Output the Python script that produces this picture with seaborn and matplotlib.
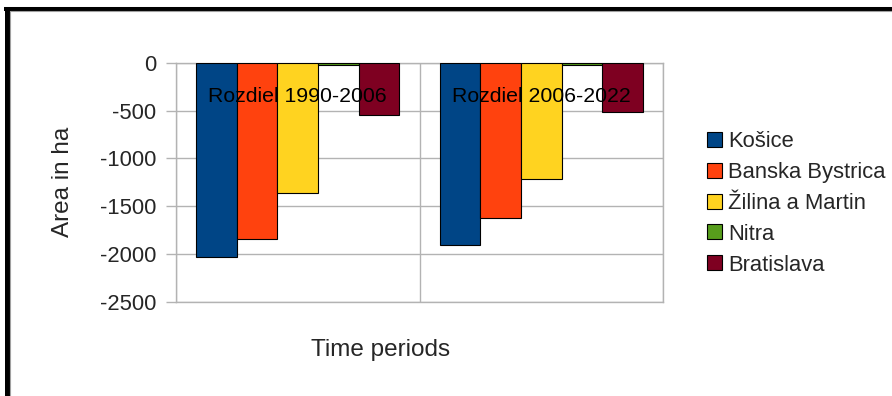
import matplotlib
matplotlib.use("Agg")
import matplotlib.pyplot as plt
import seaborn as sns
import pandas as pd
from matplotlib.lines import Line2D

periods = ["Rozdiel 1990-2006", "Rozdiel 2006-2022"]
regions = ["Košice", "Banska Bystrica", "Žilina a Martin", "Nitra", "Bratislava"]
kosice = [-2025, -1900]
banska = [-1845, -1625]
zilina = [-1365, -1210]
nitra = [-25, -20]
bratislava = [-545, -515]
colors = ["#004586", "#ff420e", "#ffd320", "#579d1c", "#7e0021"]
yticks = [0, -500, -1000, -1500, -2000, -2500]

series = [kosice, banska, zilina, nitra, bratislava]
rows = []
for reg, vals in zip(regions, series):
    for p, v in zip(periods, vals):
        rows.append({"period": p, "region": reg, "area": v})
df = pd.DataFrame(rows)

sns.set_style("white")
plt.rcParams["font.family"] = ["Liberation Sans", "DejaVu Sans"]
plt.rcParams["font.size"] = 15

fig = plt.figure(figsize=(8.92, 3.96), dpi=100)
ax = fig.add_axes([176 / 892, 1 - 302 / 396, (663 - 176) / 892, (302 - 62.7) / 396])

sns.barplot(data=df, x="period", y="area", hue="region", hue_order=regions,
            order=periods, palette=colors, width=0.834, edgecolor="black",
            linewidth=0.8, saturation=1, ax=ax, legend=True, zorder=3)

ax.set_ylim(-2500, 0)
ax.set_xlim(-0.5, 1.5)
ax.set_yticks(yticks)
ax.set_yticklabels([str(t) for t in yticks])
ax.set_xticks([])
for t in yticks:
    ax.axhline(t, color="#b3b3b3", lw=1, zorder=1)
for xv in [-0.5, 0.5, 1.5]:
    ax.axvline(xv, color="#b3b3b3", lw=1, zorder=1)
for s in ax.spines.values():
    s.set_color("#b3b3b3")
    s.set_linewidth(1)
ax.tick_params(axis="y", length=7, color="#b3b3b3", width=1, pad=7, labelsize=15.8, left=True)

for i, p in enumerate(periods):
    ax.text(i, -358, p, ha="center", va="center", fontsize=15.3, color="black", zorder=5)

ax.set_ylabel("Area in ha", fontsize=17.5)
ax.yaxis.set_label_coords(-0.232, 0.5)
ax.yaxis.label.set_va("center")
ax.set_xlabel("Time periods", fontsize=17.5)
ax.xaxis.set_label_coords(0.421, -0.199)
ax.xaxis.label.set_va("center")

handles, labels = ax.get_legend_handles_labels()
ax.get_legend().remove()
leg = fig.legend(handles, labels, loc="upper left", bbox_to_anchor=(707 / 892, 1 - 131 / 396),
                 frameon=False, fontsize=15.8, borderpad=0, borderaxespad=0,
                 handlelength=0.68, handleheight=0.68, handletextpad=0.28, labelspacing=0.45)

fig.add_artist(Line2D([6.8 / 892, 6.8 / 892], [0, 1 - 6.7 / 396], transform=fig.transFigure,
                      color="black", lw=3.6, solid_capstyle="butt"))
fig.add_artist(Line2D([4.3 / 892, 1], [1 - 8.7 / 396, 1 - 8.7 / 396], transform=fig.transFigure,
                      color="black", lw=2.9, solid_capstyle="butt"))
fig.add_artist(Line2D([9.8 / 892, 9.8 / 892], [0, 1 - 11 / 396], transform=fig.transFigure,
                      color="#a0a0a0", lw=0.8))
fig.add_artist(Line2D([9.8 / 892, 1], [1 - 11 / 396, 1 - 11 / 396], transform=fig.transFigure,
                      color="#a0a0a0", lw=0.8))

fig.savefig("out.png", dpi=100)
